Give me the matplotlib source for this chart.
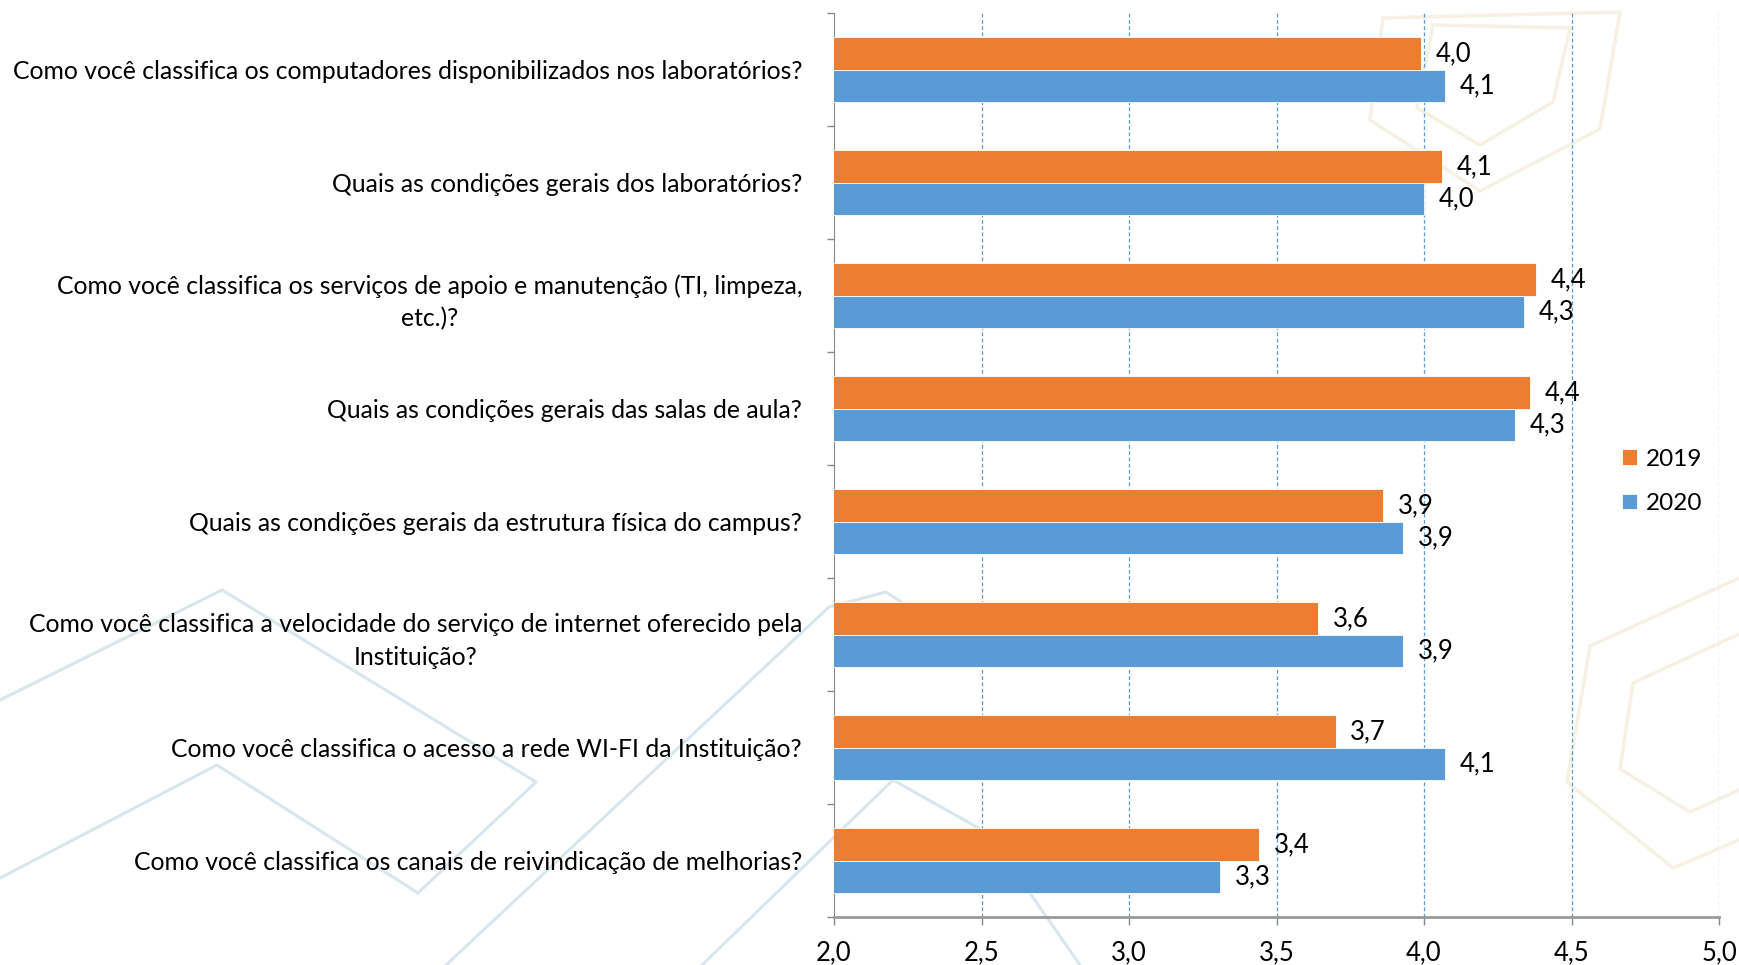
import numpy as np
import matplotlib
matplotlib.use("Agg")
import matplotlib.pyplot as plt
from matplotlib.lines import Line2D

plt.rcParams['font.family'] = ['Lato', 'DejaVu Sans']

# perguntas (de cima para baixo)
questions = [
    "Como você classifica os computadores disponibilizados nos laboratórios?",
    "Quais as condições gerais dos laboratórios?",
    "Como você classifica os serviços de apoio e manutenção (TI, limpeza,\netc.)?",
    "Quais as condições gerais das salas de aula?",
    "Quais as condições gerais da estrutura física do campus?",
    "Como você classifica a velocidade do serviço de internet oferecido pela\nInstituição?",
    "Como você classifica o acesso a rede WI-FI da Instituição?",
    "Como você classifica os canais de reivindicação de melhorias?",
]
vals_2019 = [3.99, 4.06, 4.38, 4.36, 3.86, 3.64, 3.70, 3.44]
vals_2020 = [4.07, 4.00, 4.34, 4.31, 3.93, 3.93, 4.07, 3.31]
xticks = [2.0, 2.5, 3.0, 3.5, 4.0, 4.5, 5.0]

c2019 = '#ED7D31'
c2020 = '#5B9BD5'
W, H = 1739, 965

fig = plt.figure(figsize=(17.39, 9.65), dpi=100)

# marca d'agua do fundo (formas claras)
blue_shapes = [
    [(0, 700), (222, 590), (536, 782), (418, 893)],
    [(0, 878), (217, 765), (418, 893)],
    [(446, 965), (829, 607), (886, 592), (990, 660)],
    [(702, 965), (893, 780), (982, 830)],
    [(1080, 965), (1000, 850)],
]
beige_shapes = [
    [(1383, 18), (1620, 12), (1600, 129), (1480, 191), (1370, 120), (1383, 18)],
    [(1433, 25), (1570, 28), (1553, 102), (1480, 145), (1417, 108), (1433, 25)],
    [(1739, 578), (1590, 646), (1567, 782), (1673, 868), (1739, 840)],
    [(1739, 634), (1633, 683), (1620, 769), (1690, 812), (1739, 790)],
]
for pts in blue_shapes:
    xs = [p[0] / W for p in pts]
    ys = [1 - p[1] / H for p in pts]
    fig.add_artist(Line2D(xs, ys, transform=fig.transFigure, color='#D8E6EE', lw=2.2, zorder=0))
for pts in beige_shapes:
    xs = [p[0] / W for p in pts]
    ys = [1 - p[1] / H for p in pts]
    fig.add_artist(Line2D(xs, ys, transform=fig.transFigure, color='#F6F1E2', lw=2.5, zorder=0))

ax = fig.add_axes([834/W, 1-917/H, (1719-834)/W, (917-13)/H])

n = len(questions)
y = np.arange(n)
h = 0.285
ax.barh(y - h/2, vals_2019, height=h, left=0, color=c2019, edgecolor='white', linewidth=0.6, label='2019', zorder=3)
ax.barh(y + h/2, vals_2020, height=h, left=0, color=c2020, edgecolor='white', linewidth=0.6, label='2020', zorder=3)

for i in range(n):
    ax.text(vals_2019[i] + 0.05, y[i] - h/2, ("%.1f" % vals_2019[i]).replace('.', ','),
            va='center', ha='left', fontsize=18.5, color='black', zorder=4)
    ax.text(vals_2020[i] + 0.05, y[i] + h/2, ("%.1f" % vals_2020[i]).replace('.', ','),
            va='center', ha='left', fontsize=18.5, color='black', zorder=4)

ax.set_xlim(2.0, 5.0)
ax.set_ylim(n - 0.5, -0.5)

ax.set_xticks(xticks)
ax.set_xticklabels([("%.1f" % v).replace('.', ',') for v in xticks], fontsize=18.5)
ax.set_yticks(y)
ax.set_yticklabels(questions, fontsize=17.8, multialignment='center', linespacing=1.5)
ax.set_yticks(np.arange(-0.5, n, 1.0), minor=True)
ax.tick_params(axis='y', which='major', length=0, pad=23)
ax.tick_params(axis='y', which='minor', length=5, color='#888888', width=1)
ax.tick_params(axis='x', length=6, color='#888888', width=1, pad=11)

for v in xticks[1:]:
    ax.axvline(v, color=c2020, linestyle=(0, (3, 2)), linewidth=0.9, zorder=1)

for s in ['top', 'right']:
    ax.spines[s].set_visible(False)
ax.spines['left'].set_color('#888888')
ax.spines['bottom'].set_color('#999999')
ax.spines['bottom'].set_linewidth(2)
ax.patch.set_alpha(0)

ax.legend(loc='center left', bbox_to_anchor=(0.866, 0.482), frameon=False, fontsize=17.5,
          handlelength=0.6, handleheight=0.6, labelspacing=0.95, handletextpad=0.35)

plt.savefig('out.png', dpi=100)
plt.close()
